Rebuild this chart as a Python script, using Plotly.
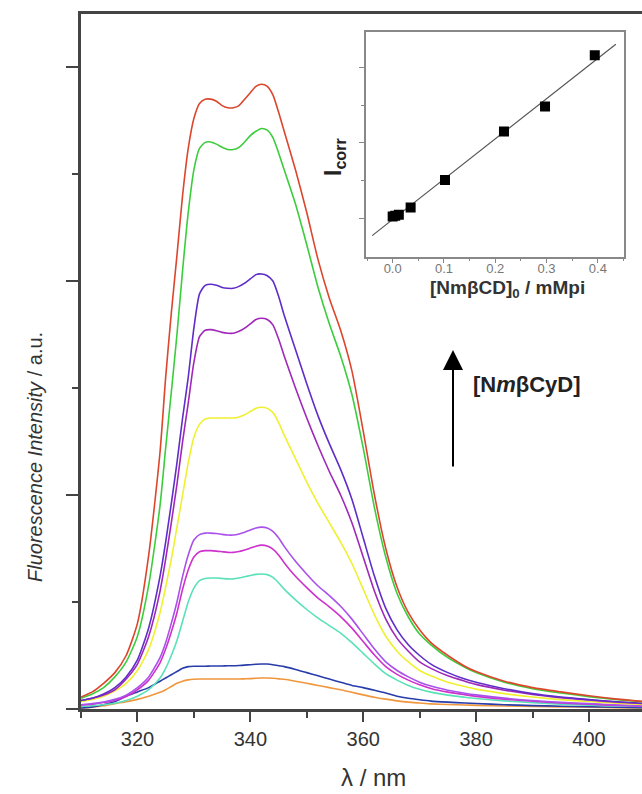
import numpy as np
import plotly.graph_objects as go

# ---------------- data ----------------
wl = [310, 312, 314, 316, 318, 320, 322, 324, 325, 326, 327, 328, 329, 330, 331, 332, 333, 334, 335,
      336, 337, 338, 339, 340, 341, 342, 343, 344, 345, 346, 348, 350, 352, 354, 356, 358, 360, 362,
      364, 366, 368, 370, 372, 375, 378, 380, 385, 390, 395, 400, 405, 410]

s_red = [.056, .08, .12, .17, .25, .40, .72, 1.20, 1.55, 1.85, 2.12, 2.40, 2.62, 2.76, 2.83, 2.85, 2.85,
         2.84, 2.82, 2.81, 2.81, 2.82, 2.85, 2.88, 2.91, 2.92, 2.91, 2.87, 2.79, 2.70, 2.52, 2.32, 2.10,
         1.92, 1.77, 1.58, 1.30, 1.00, .75, .57, .45, .37, .31, .25, .20, .175, .13, .10, .08, .062, .046, .034]
s_green = [.05, .07, .10, .15, .22, .34, .58, .95, 1.22, 1.48, 1.75, 2.05, 2.32, 2.52, 2.62, 2.648, 2.65,
           2.64, 2.625, 2.615, 2.615, 2.625, 2.65, 2.68, 2.70, 2.713, 2.705, 2.67, 2.60, 2.52, 2.36, 2.17,
           1.97, 1.80, 1.65, 1.47, 1.22, .94, .71, .54, .43, .35, .30, .24, .195, .17, .125, .095, .075,
           .058, .044, .033]
s_blue = [.04, .05, .07, .10, .15, .23, .38, .62, .78, .96, 1.15, 1.36, 1.55, 1.78, 1.94, 1.98, 1.985,
          1.98, 1.97, 1.966, 1.966, 1.975, 1.99, 2.01, 2.03, 2.033, 2.025, 2.00, 1.93, 1.84, 1.68, 1.52,
          1.37, 1.24, 1.12, .98, .80, .62, .47, .37, .30, .25, .21, .17, .14, .125, .095, .072, .056,
          .044, .034, .026]
s_purple = [.04, .05, .065, .09, .14, .21, .34, .55, .70, .87, 1.05, 1.25, 1.43, 1.62, 1.74, 1.77, 1.773,
            1.768, 1.76, 1.756, 1.756, 1.765, 1.78, 1.80, 1.82, 1.826, 1.82, 1.795, 1.73, 1.65, 1.50,
            1.36, 1.23, 1.11, 1.00, .87, .71, .55, .42, .33, .27, .22, .19, .155, .13, .115, .088, .068,
            .053, .042, .032, .025]
s_yellow = [.035, .045, .06, .085, .12, .18, .28, .45, .57, .70, .85, 1.00, 1.15, 1.27, 1.33, 1.355, 1.36,
            1.36, 1.36, 1.36, 1.36, 1.365, 1.375, 1.39, 1.405, 1.41, 1.405, 1.385, 1.34, 1.28, 1.17,
            1.06, .96, .87, .78, .68, .56, .44, .34, .27, .22, .18, .155, .125, .105, .093, .072, .056,
            .044, .035, .027, .021]
s_violet = [.02, .025, .033, .045, .065, .10, .15, .24, .31, .40, .50, .62, .72, .79, .815, .822, .822,
            .82, .816, .813, .813, .818, .826, .836, .846, .85, .846, .83, .80, .76, .69, .63, .575, .53,
            .48, .42, .35, .28, .22, .18, .15, .125, .107, .088, .074, .066, .051, .04, .031, .025, .019, .015]
s_magenta = [.018, .022, .03, .04, .058, .09, .135, .216, .28, .36, .45, .56, .65, .71, .735, .74, .74,
             .738, .735, .732, .732, .736, .743, .752, .761, .766, .762, .747, .72, .684, .62, .567, .518,
             .477, .432, .378, .315, .252, .198, .162, .135, .113, .096, .079, .067, .059, .046, .036,
             .028, .022, .017, .013]
s_cyan = [.012, .015, .02, .027, .04, .06, .09, .145, .19, .25, .32, .41, .50, .565, .60, .61, .612, .612,
          .61, .608, .608, .612, .618, .624, .629, .631, .628, .615, .59, .56, .51, .465, .425, .39, .355,
          .31, .26, .21, .165, .135, .11, .092, .079, .065, .055, .049, .038, .03, .023, .018, .014, .011]
s_navy = [.005, .01, .02, .035, .06, .08, .10, .13, .145, .16, .175, .19, .198, .20, .20, .20, .201, .201,
          .201, .202, .202, .203, .205, .207, .209, .21, .21, .207, .202, .198, .185, .17, .155, .14, .125,
          .11, .10, .088, .075, .06, .05, .043, .037, .032, .028, .026, .02, .016, .013, .011, .008, .006]
s_orange = [.004, .008, .015, .025, .034, .045, .06, .078, .09, .105, .12, .13, .136, .139, .14, .14, .14,
            .14, .14, .14, .14, .14, .141, .142, .144, .145, .145, .144, .141, .139, .13, .12, .11, .10,
            .09, .078, .066, .055, .046, .038, .032, .028, .024, .021, .019, .017, .014, .012, .01, .008,
            .006, .005]

series = [
    ("orange", s_orange, "rgb(240,150,60)"),
    ("navy", s_navy, "rgb(40,60,170)"),
    ("cyan", s_cyan, "rgb(90,225,185)"),
    ("magenta", s_magenta, "rgb(205,50,205)"),
    ("violet", s_violet, "rgb(170,80,235)"),
    ("yellow", s_yellow, "rgb(240,240,50)"),
    ("purple", s_purple, "rgb(160,40,185)"),
    ("blue", s_blue, "rgb(95,45,200)"),
    ("green", s_green, "rgb(60,205,60)"),
    ("red", s_red, "rgb(220,70,45)"),
]

# inset data
conc = [0.0, 0.005, 0.012, 0.035, 0.102, 0.217, 0.297, 0.394]
icorr = [1.02, 1.03, 1.045, 1.14, 1.505, 2.15, 2.48, 3.16]
fit_x = [-0.04, 0.435]

x_major = [320, 340, 360, 380, 400]
x_minor = [310, 330, 350, 370, 390, 410]
ins_x_ticks = [0.0, 0.1, 0.2, 0.3, 0.4]
ins_x_labels = ["0.0", "0.1", "0.2", "0.3", "0.4"]

# ---------------- figure ----------------
W, H = 642, 794
L, R, T, B = 81, 0, 14, 85
PW, PH = W - L - R, H - T - B


def px(xp):
    return (xp - L) / PW


def py(yp):
    return (H - B - yp) / PH


fig = go.Figure()
for name, ys, col in series:
    fig.add_trace(go.Scatter(x=wl, y=ys, mode="lines", name=name,
                             line=dict(color=col, width=1.6, shape="spline", smoothing=0.6),
                             showlegend=False, hoverinfo="skip"))

coef = np.polyfit(conc, icorr, 1)
fit_y = list(np.polyval(coef, fit_x))
fig.add_trace(go.Scatter(x=fit_x, y=fit_y, mode="lines", line=dict(color="#555", width=1.2),
                         xaxis="x2", yaxis="y2", showlegend=False, hoverinfo="skip"))
fig.add_trace(go.Scatter(x=conc, y=icorr, mode="markers",
                         marker=dict(symbol="square", size=10, color="black"),
                         xaxis="x2", yaxis="y2", showlegend=False, hoverinfo="skip"))

font = "Liberation Sans, Arial, sans-serif"
axcol = "#444"

fig.update_layout(
    width=W, height=H, margin=dict(l=L, r=R, t=T, b=B),
    paper_bgcolor="white", plot_bgcolor="white",
    font=dict(family=font, color="#333", size=16),
    xaxis=dict(range=[310, 409.4], showgrid=False, zeroline=False, showline=True,
               linecolor=axcol, linewidth=2.5, mirror=True,
               tickmode="array", tickvals=x_major, ticktext=[str(v) for v in x_major],
               ticks="outside", ticklen=10, tickwidth=2, tickcolor=axcol,
               tickfont=dict(size=20, color="#333"),
               minor=dict(tickmode="array", tickvals=x_minor, ticks="outside", ticklen=6,
                          tickwidth=2, tickcolor=axcol)),
    yaxis=dict(range=[0, 3.248], showgrid=False, zeroline=False, showline=True,
               linecolor=axcol, linewidth=2.5, mirror=False,
               tickmode="array", tickvals=[0, 1, 2, 3], showticklabels=False,
               ticks="outside", ticklen=12, tickwidth=2, tickcolor=axcol,
               minor=dict(tickmode="array", tickvals=[0.5, 1.5, 2.5], ticks="outside", ticklen=6,
                          tickwidth=2, tickcolor=axcol)),
    xaxis2=dict(domain=[px(366), px(623.5)], anchor="y2", range=[-0.052, 0.45],
                showgrid=False, zeroline=False, showline=True, linecolor="#888", linewidth=1.5,
                mirror=True, tickmode="array", tickvals=ins_x_ticks, ticktext=ins_x_labels,
                ticks="outside", ticklen=5, tickcolor="#888", tickwidth=1.2,
                ticklabelstandoff=-6,
                tickfont=dict(size=13, color="#777"),
                minor=dict(tickmode="array", tickvals=[-0.05, 0.05, 0.15, 0.25, 0.35, 0.45],
                           ticks="outside", ticklen=3, tickcolor="#888", tickwidth=1.2)),
    yaxis2=dict(domain=[py(256.5), py(32)], anchor="x2", range=[0.49, 3.47],
                showgrid=False, zeroline=False, showline=True, linecolor="#888", linewidth=1.5,
                mirror=True, tickmode="array", tickvals=[1, 2, 3], showticklabels=False,
                ticks="outside", ticklen=5, tickcolor="#888", tickwidth=1.2,
                minor=dict(tickmode="array", tickvals=[1.5, 2.5], ticks="outside", ticklen=3,
                           tickcolor="#888", tickwidth=1.2)),
)

ann = [
    dict(text="λ / nm", x=px(373), y=py(777), font=dict(size=24, color="#333")),
    dict(text="<i>Fluorescence Intensity</i> / a.u.", x=px(35), y=py(457), textangle=-90,
         font=dict(size=20, color="#333")),
    dict(text="<b>[NmβCD]<sub>0</sub> / mMpi</b>", x=px(507), y=py(289),
         font=dict(size=19, color="#333")),
    dict(text="<b>I<sub>corr</sub></b>", x=px(334), y=py(157), textangle=-90,
         font=dict(size=23, color="#222")),
    dict(text="<b>[N<i>m</i>βCyD]</b>", x=px(527), y=py(384), font=dict(size=22, color="#222")),
]
for a in ann:
    fig.add_annotation(xref="paper", yref="paper", showarrow=False, xanchor="center",
                       yanchor="middle", **a)

fig.add_annotation(xref="paper", yref="paper", x=px(453), y=py(350), ax=0, ay=118,
                   axref="pixel", ayref="pixel", showarrow=True, arrowhead=2, arrowsize=2.0,
                   arrowwidth=2.0, arrowcolor="black", text="")

fig.write_html("out.html")
